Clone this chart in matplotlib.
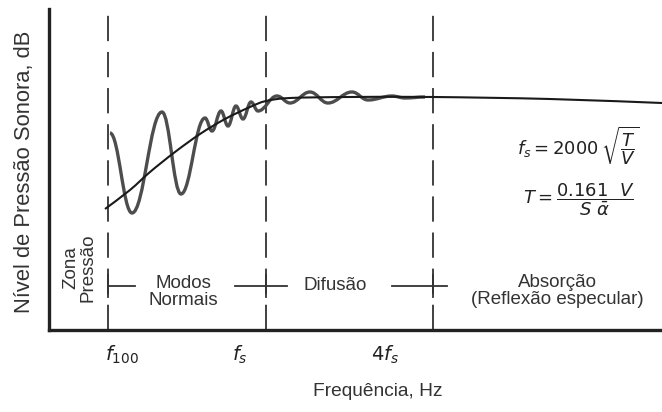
import matplotlib
matplotlib.use("Agg")
import matplotlib.pyplot as plt
from matplotlib.path import Path
from matplotlib.patches import PathPatch

plt.rcParams['font.family'] = ['Liberation Sans', 'DejaVu Sans']

# ---- data (schematic positions) ----
# frequency axis position (arbitrary units) and level (arbitrary units)
trend_x = [56, 81, 101, 126, 151, 176, 201, 217, 241, 301, 384, 501, 613]
trend_y = [121, 140, 158, 178, 196, 211, 223, 229, 232, 233, 233, 231, 227]

# extrema of the modal (oscillating) response
wave_x = [61, 83, 113, 132, 156, 163, 172, 179, 187, 194, 202, 209,
          228, 241, 261, 279, 303, 319, 343, 356, 376]
wave_y = [197, 117, 218, 136, 212, 199, 219, 204, 224, 211, 228, 219,
          234, 227, 238, 227, 238, 230, 234, 232, 233]

region_bounds = [59, 217, 384]            # f100, fs, 4fs
tick_labels = [r"$f_{100}$", r"$f_s$", r"$4f_s$"]
tick_label_x = [73, 191, 336]

zone_labels = ["Zona\nPressão", "Modos\nNormais", "Difusão",
               "Absorção\n(Reflexão especular)"]
zone_x = [30, 134, 286, 508]
zone_y = [62, 38, 44, 39]
zone_rot = [90, 0, 0, 0]

marker_segments = [(59, 86), (186, 238), (343, 398)]
marker_level = 44

TXT = '#333333'

fig = plt.figure(figsize=(6.62, 4.12), dpi=100)
ax = fig.add_axes([49/662, 82/412, 613/662, 321/412])
ax.set_xlim(0, 613)
ax.set_ylim(0, 321)
for s in ['top', 'right']:
    ax.spines[s].set_visible(False)
for s in ['left', 'bottom']:
    ax.spines[s].set_linewidth(2.4)
    ax.spines[s].set_color('#222222')
ax.set_xticks([])
ax.set_yticks([])

# dashed region boundaries
for xb in region_bounds:
    ax.axvline(xb, color='#333333', lw=1.3, linestyle=(0, (14, 6)), zorder=1)
    ax.plot([xb, xb], [marker_level - 11, marker_level + 11], color='#333333', lw=1.3)

# range markers
for (a, b) in marker_segments:
    ax.plot([a, b], [marker_level, marker_level], color='#333333', lw=1.3)


def wave_path(xs, ys, k=0.4):
    verts = [(xs[0], ys[0])]
    codes = [Path.MOVETO]
    for i in range(len(xs) - 1):
        x0, y0, x1, y1 = xs[i], ys[i], xs[i + 1], ys[i + 1]
        dx = x1 - x0
        verts += [(x0 + k * dx, y0), (x1 - k * dx, y1), (x1, y1)]
        codes += [Path.CURVE4] * 3
    return Path(verts, codes)


def catmull_path(xs, ys):
    pts = list(zip(xs, ys))
    verts = [pts[0]]
    codes = [Path.MOVETO]
    n = len(pts)
    for i in range(n - 1):
        p0 = pts[i - 1] if i > 0 else pts[i]
        p1 = pts[i]
        p2 = pts[i + 1]
        p3 = pts[i + 2] if i + 2 < n else pts[i + 1]
        c1 = (p1[0] + (p2[0] - p0[0]) / 6, p1[1] + (p2[1] - p0[1]) / 6)
        c2 = (p2[0] - (p3[0] - p1[0]) / 6, p2[1] - (p3[1] - p1[1]) / 6)
        verts += [c1, c2, p2]
        codes += [Path.CURVE4] * 3
    return Path(verts, codes)


ax.add_patch(PathPatch(wave_path(wave_x, wave_y), fill=False,
                       edgecolor='#4d4d4d', lw=2.4, zorder=3))
ax.add_patch(PathPatch(catmull_path(trend_x, trend_y), fill=False,
                       edgecolor='#1a1a1a', lw=1.5, zorder=4))

# zone labels
for t, x, y, r in zip(zone_labels, zone_x, zone_y, zone_rot):
    ax.text(x, y, t, ha='center', va='center', rotation=r, fontsize=13.5,
            color=TXT, linespacing=1.0)

# tick labels
for t, x in zip(tick_labels, tick_label_x):
    ax.text(x, -25, t, ha='center', va='center', fontsize=14, color='#222222',
            clip_on=False)

# formulas
ax.text(468, 184, r"$f_s = 2000\,\sqrt{\dfrac{T}{V}}$", ha='left', va='center',
        fontsize=13, color='#222222')
ax.text(474, 130, r"$T = \dfrac{0.161\ \ V}{S\ \bar{\alpha}}$", ha='left', va='center',
        fontsize=13, color='#222222')

fig.text(378/662, 1 - 392/412, "Frequência, Hz", ha='center', va='center',
         fontsize=13.8, color=TXT)
fig.text(25/662, 1 - 172/412, "Nível de Pressão Sonora, dB", ha='center', va='center',
         rotation=90, fontsize=15.8, color=TXT)

fig.savefig("out.png", dpi=100)
